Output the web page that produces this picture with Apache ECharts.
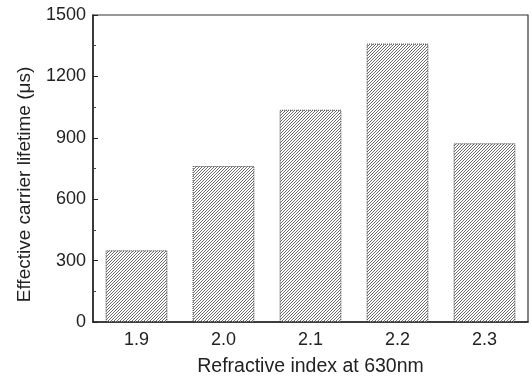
<!DOCTYPE html>
<html>
<head>
<meta charset="utf-8">
<script src="https://cdn.jsdelivr.net/npm/echarts@6/dist/echarts.min.js"></script>
<style>html,body{margin:0;padding:0;background:#fff;}#c{width:532px;height:378px;}</style>
</head>
<body>
<div id="c"></div>
<script>
var categories = ['1.9', '2.0', '2.1', '2.2', '2.3'];
var lifetimes = [350, 762, 1037, 1360, 873];
var yTicks = [0, 300, 600, 900, 1200, 1500];

function hatch() {
  var s = 6;
  var cv = document.createElement('canvas');
  cv.width = s; cv.height = s;
  var g = cv.getContext('2d');
  g.fillStyle = '#ffffff';
  g.fillRect(0, 0, s, s);
  g.strokeStyle = '#6e6e6e';
  g.lineWidth = 1;
  g.beginPath();
  for (var k = -s; k <= 2 * s; k += 3) {
    g.moveTo(k - s, s);
    g.lineTo(k + s, -s);
  }
  g.stroke();
  return cv;
}

var font = 'Liberation Sans, Arial, sans-serif';
var chart = echarts.init(document.getElementById('c'), null, {renderer: 'canvas'});
chart.setOption({
  animation: false,
  grid: {left: 93, right: 4, top: 15, bottom: 56, show: true, borderColor: '#333', borderWidth: 1.2,
         containLabel: false, outerBoundsMode: 'none'},
  xAxis: {
    type: 'category',
    data: categories,
    axisLine: {lineStyle: {color: '#222', width: 1.5}},
    axisTick: {show: false},
    axisLabel: {color: '#222', fontSize: 18, fontFamily: font, margin: 9},
    name: 'Refractive index at 630nm',
    nameLocation: 'middle',
    nameGap: 35,
    nameTextStyle: {color: '#222', fontSize: 19.5, fontFamily: font}
  },
  yAxis: {
    type: 'value',
    min: yTicks[0], max: yTicks[yTicks.length - 1], interval: 300,
    axisLine: {show: true, lineStyle: {color: '#222', width: 1.5}},
    axisTick: {show: true, inside: true, length: 5, lineStyle: {color: '#222'}},
    minorTick: {show: true, splitNumber: 2, length: 3, lineStyle: {color: '#444'}},
    splitLine: {show: false},
    axisLabel: {color: '#222', fontSize: 18, fontFamily: font, margin: 7, formatter: function (v) { return String(v); }},
    name: 'Effective carrier lifetime (\u03bcs)',
    nameLocation: 'middle',
    nameGap: 59,
    nameTextStyle: {color: '#222', fontSize: 19, fontFamily: font, padding: [0, 32, 0, 0]}
  },
  series: [{
    type: 'bar',
    data: lifetimes,
    barCategoryGap: '29%',
    itemStyle: {
      color: {image: hatch(), repeat: 'repeat'},
      borderColor: '#333',
      borderWidth: 1,
      borderType: 'dotted'
    }
  }]
});
</script>
</body>
</html>
